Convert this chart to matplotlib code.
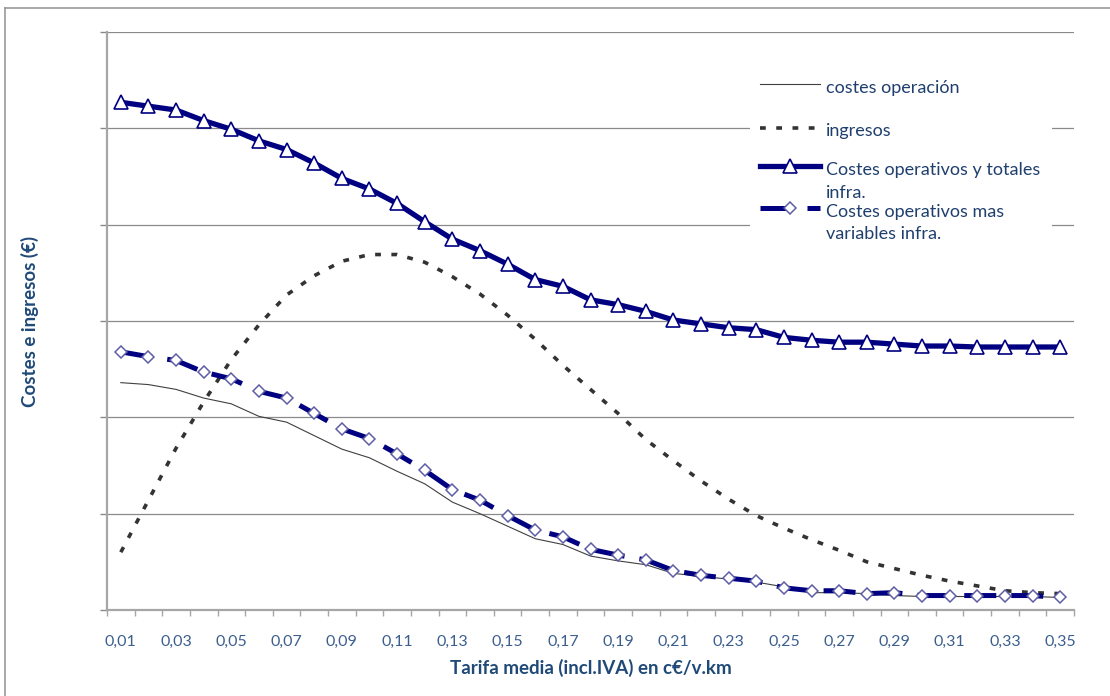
import matplotlib
matplotlib.use('Agg')
import matplotlib.pyplot as plt
from matplotlib.lines import Line2D
from matplotlib.patches import Rectangle

plt.rcParams['font.family'] = ['Lato', 'DejaVu Sans']

# Tarifa media (c€/v.km)
tarifa = [0.01, 0.02, 0.03, 0.04, 0.05, 0.06, 0.07, 0.08, 0.09, 0.10,
          0.11, 0.12, 0.13, 0.14, 0.15, 0.16, 0.17, 0.18, 0.19, 0.20,
          0.21, 0.22, 0.23, 0.24, 0.25, 0.26, 0.27, 0.28, 0.29, 0.30,
          0.31, 0.32, 0.33, 0.34, 0.35]

# values (y axis has no labels, gridline = 1 unit)
costes_operacion = [2.36, 2.34, 2.29, 2.20, 2.14, 2.01, 1.95, 1.81, 1.67, 1.58,
                    1.44, 1.31, 1.12, 1.00, 0.87, 0.74, 0.68, 0.56, 0.51, 0.47,
                    0.38, 0.35, 0.32, 0.29, 0.24, 0.18, 0.18, 0.17, 0.15, 0.14,
                    0.14, 0.14, 0.14, 0.14, 0.13]
ingresos = [0.60, 1.14, 1.68, 2.16, 2.60, 2.96, 3.27, 3.47, 3.62, 3.69,
            3.69, 3.61, 3.46, 3.28, 3.06, 2.81, 2.54, 2.29, 2.04, 1.77,
            1.55, 1.34, 1.15, 0.98, 0.85, 0.73, 0.62, 0.50, 0.43, 0.36,
            0.30, 0.25, 0.20, 0.18, 0.17]
costes_totales = [5.27, 5.23, 5.19, 5.08, 4.99, 4.87, 4.78, 4.64, 4.48, 4.37,
                  4.22, 4.03, 3.85, 3.73, 3.59, 3.43, 3.36, 3.22, 3.17, 3.10,
                  3.01, 2.97, 2.93, 2.91, 2.83, 2.80, 2.78, 2.78, 2.76, 2.74,
                  2.74, 2.73, 2.73, 2.73, 2.73]
costes_variables = [2.68, 2.63, 2.59, 2.47, 2.40, 2.27, 2.20, 2.04, 1.88, 1.78,
                    1.62, 1.45, 1.25, 1.14, 0.98, 0.83, 0.76, 0.63, 0.57, 0.52,
                    0.41, 0.36, 0.33, 0.30, 0.23, 0.20, 0.20, 0.17, 0.18, 0.15,
                    0.15, 0.15, 0.15, 0.15, 0.13]

labels = ['costes operación', 'ingresos',
          'Costes operativos y totales\ninfra.',
          'Costes operativos mas\nvariables infra.']

navy = '#000080'
grid_gray = '#8a8a8a'
axis_gray = '#a6a6a6'
label_blue = '#1F4A78'
tick_blue = '#3C5F8E'

styles = [
    dict(color='#404040', lw=0.8),
    dict(color='#333333', lw=2.6, dashes=(1.6, 2.9), dash_capstyle='butt'),
    dict(color=navy, lw=3.8, marker='^', ms=9.5, mfc='white', mec=navy, mew=1.2),
    dict(color=navy, lw=3.6, dashes=(6.4, 3.0), dash_capstyle='butt',
         marker='D', ms=6.3, mfc='white', mec='#5E5EA6', mew=1.1),
]
series = [costes_operacion, ingresos, costes_totales, costes_variables]

fig = plt.figure(figsize=(11.1, 6.96), dpi=100)
ax = fig.add_axes([107 / 1110, 86 / 696, 967 / 1110, 578 / 696])

for i, (vals, st) in enumerate(zip(series, styles)):
    ax.plot(tarifa, vals, zorder=3 + i, **st)

step = tarifa[1] - tarifa[0]
ax.set_xlim(tarifa[0] - step / 2, tarifa[-1] + step / 2)
ax.set_ylim(0, 6)

ax.set_xticks(tarifa[::2])
ax.set_xticklabels([f'{t:.2f}'.replace('.', ',') for t in tarifa[::2]],
                   color=tick_blue, fontsize=11.5)
ax.set_xticks([t - step / 2 for t in tarifa] + [tarifa[-1] + step / 2], minor=True)
ax.tick_params(axis='x', which='major', length=0, pad=18)
ax.tick_params(axis='x', which='minor', length=4, width=1, color=axis_gray)

ax.set_yticks(range(7))
ax.set_yticklabels([])
ax.tick_params(axis='y', length=5, width=1, color=grid_gray)
ax.grid(axis='y', color=grid_gray, lw=0.9)
ax.set_axisbelow(True)

for s in ['top', 'right']:
    ax.spines[s].set_visible(False)
for s in ['left', 'bottom']:
    ax.spines[s].set_color(axis_gray)
    ax.spines[s].set_linewidth(1.6)

ax.set_xlabel('Tarifa media (incl.IVA) en c€/v.km', fontsize=13.5,
              fontweight='bold', color=label_blue)
ax.xaxis.set_label_coords(0.5, -0.10)
ax.xaxis.label.set_va('center')
ax.set_ylabel('Costes e ingresos (€)', fontsize=13.5, fontweight='bold',
              color=label_blue)
ax.yaxis.set_label_coords(-0.08, 0.5)
ax.yaxis.label.set_va('center')

# legend drawn by hand so the handles sit on the first line of each label
ax.add_patch(Rectangle((0.665, 0.62), 0.312, 0.335, transform=ax.transAxes,
                       facecolor='white', edgecolor='none', zorder=2.5))
handle_y = [0.9095, 0.8345, 0.7675, 0.6955]
line_step = 23 / 578  # pitch of wrapped legend lines, axes units
for st, lab, hy in zip(styles, labels, handle_y):
    ax.add_line(Line2D([0.6753, 0.7063, 0.7373], [hy, hy, hy], transform=ax.transAxes,
                       zorder=8, clip_on=False,
                       markevery=[1] if 'marker' in st else None, **st))
    # multi-line text with va='baseline' sits on its last line
    n_extra = lab.count('\n')
    ax.text(0.7435, hy - 0.0145 - n_extra * line_step, lab,
            transform=ax.transAxes, fontsize=13, color='#1F3F6E',
            va='baseline', ha='left', linespacing=1.5, zorder=9)

# outer chart border
fig.add_artist(Line2D([5 / 1110, 5 / 1110], [0, 1 - 8 / 696],
                      color='#999999', lw=1.2))
fig.add_artist(Line2D([5 / 1110, 1], [1 - 8 / 696, 1 - 8 / 696],
                      color='#999999', lw=1.2))

fig.savefig('out.png', dpi=100)
